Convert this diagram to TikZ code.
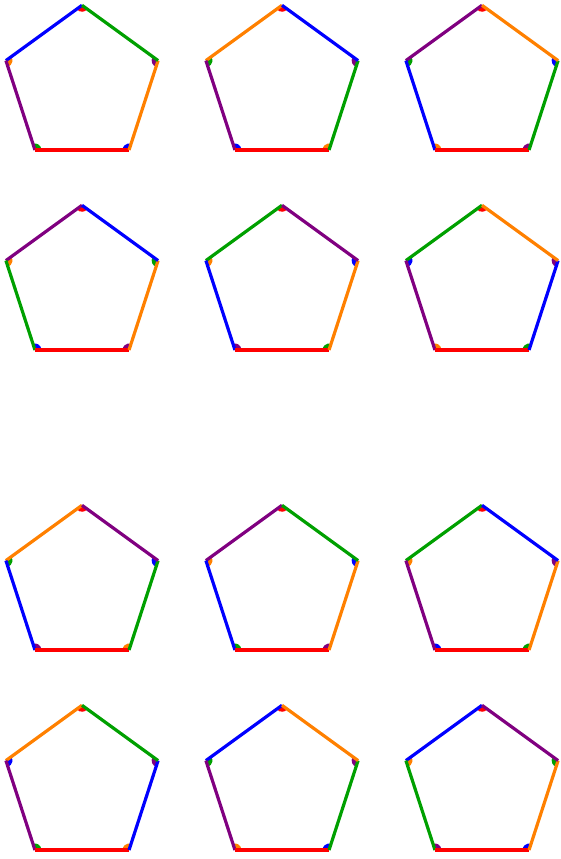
\documentclass[tikz,border=0pt]{standalone}
\definecolor{cR}{RGB}{255,0,0}
\definecolor{cB}{RGB}{0,0,255}
\definecolor{cG}{RGB}{0,160,0}
\definecolor{cO}{RGB}{255,128,0}
\definecolor{cP}{RGB}{128,0,128}
\tikzset{edgeline/.style={line width=3.2pt},wedgefill/.style={draw=none}}
\newcommand\pentagonfig[6]{%
  \begin{scope}[shift={(#1pt,#2pt)}]
    \foreach \k in {0,...,4} {\coordinate (v\k) at ({90+72*\k}:80pt);}
    \foreach \k/\c in {0/cR,1/#5,2/#4,3/#3,4/#6} {
      \fill[wedgefill,\c] (v\k) -- ++({90+72*\k+126}:6.5pt) arc[start angle={90+72*\k+126}, delta angle=108, radius=6.5pt] -- cycle;
    }
    \draw[edgeline,#3] (v0) -- (v1);
    \draw[edgeline,#6] (v1) -- (v2);
    \draw[edgeline,cR] (v2) -- (v3);
    \draw[edgeline,#5] (v3) -- (v4);
    \draw[edgeline,#4] (v4) -- (v0);
  \end{scope}}
\begin{document}
\begin{tikzpicture}
\useasboundingbox (0pt,0pt) rectangle (561pt,859pt);
% row 1
\pentagonfig{82}{773.7}{cB}{cG}{cO}{cP}
\pentagonfig{282}{773.7}{cO}{cB}{cG}{cP}
\pentagonfig{482}{773.7}{cP}{cO}{cG}{cB}
% row 2
\pentagonfig{82}{573.7}{cP}{cB}{cO}{cG}
\pentagonfig{282}{573.7}{cG}{cP}{cO}{cB}
\pentagonfig{482}{573.7}{cG}{cO}{cB}{cP}
% row 3
\pentagonfig{82}{273.7}{cO}{cP}{cG}{cB}
\pentagonfig{282}{273.7}{cP}{cG}{cO}{cB}
\pentagonfig{482}{273.7}{cG}{cB}{cO}{cP}
% row 4
\pentagonfig{82}{73.7}{cO}{cG}{cB}{cP}
\pentagonfig{282}{73.7}{cB}{cO}{cG}{cP}
\pentagonfig{482}{73.7}{cB}{cP}{cO}{cG}
\end{tikzpicture}
\end{document}
